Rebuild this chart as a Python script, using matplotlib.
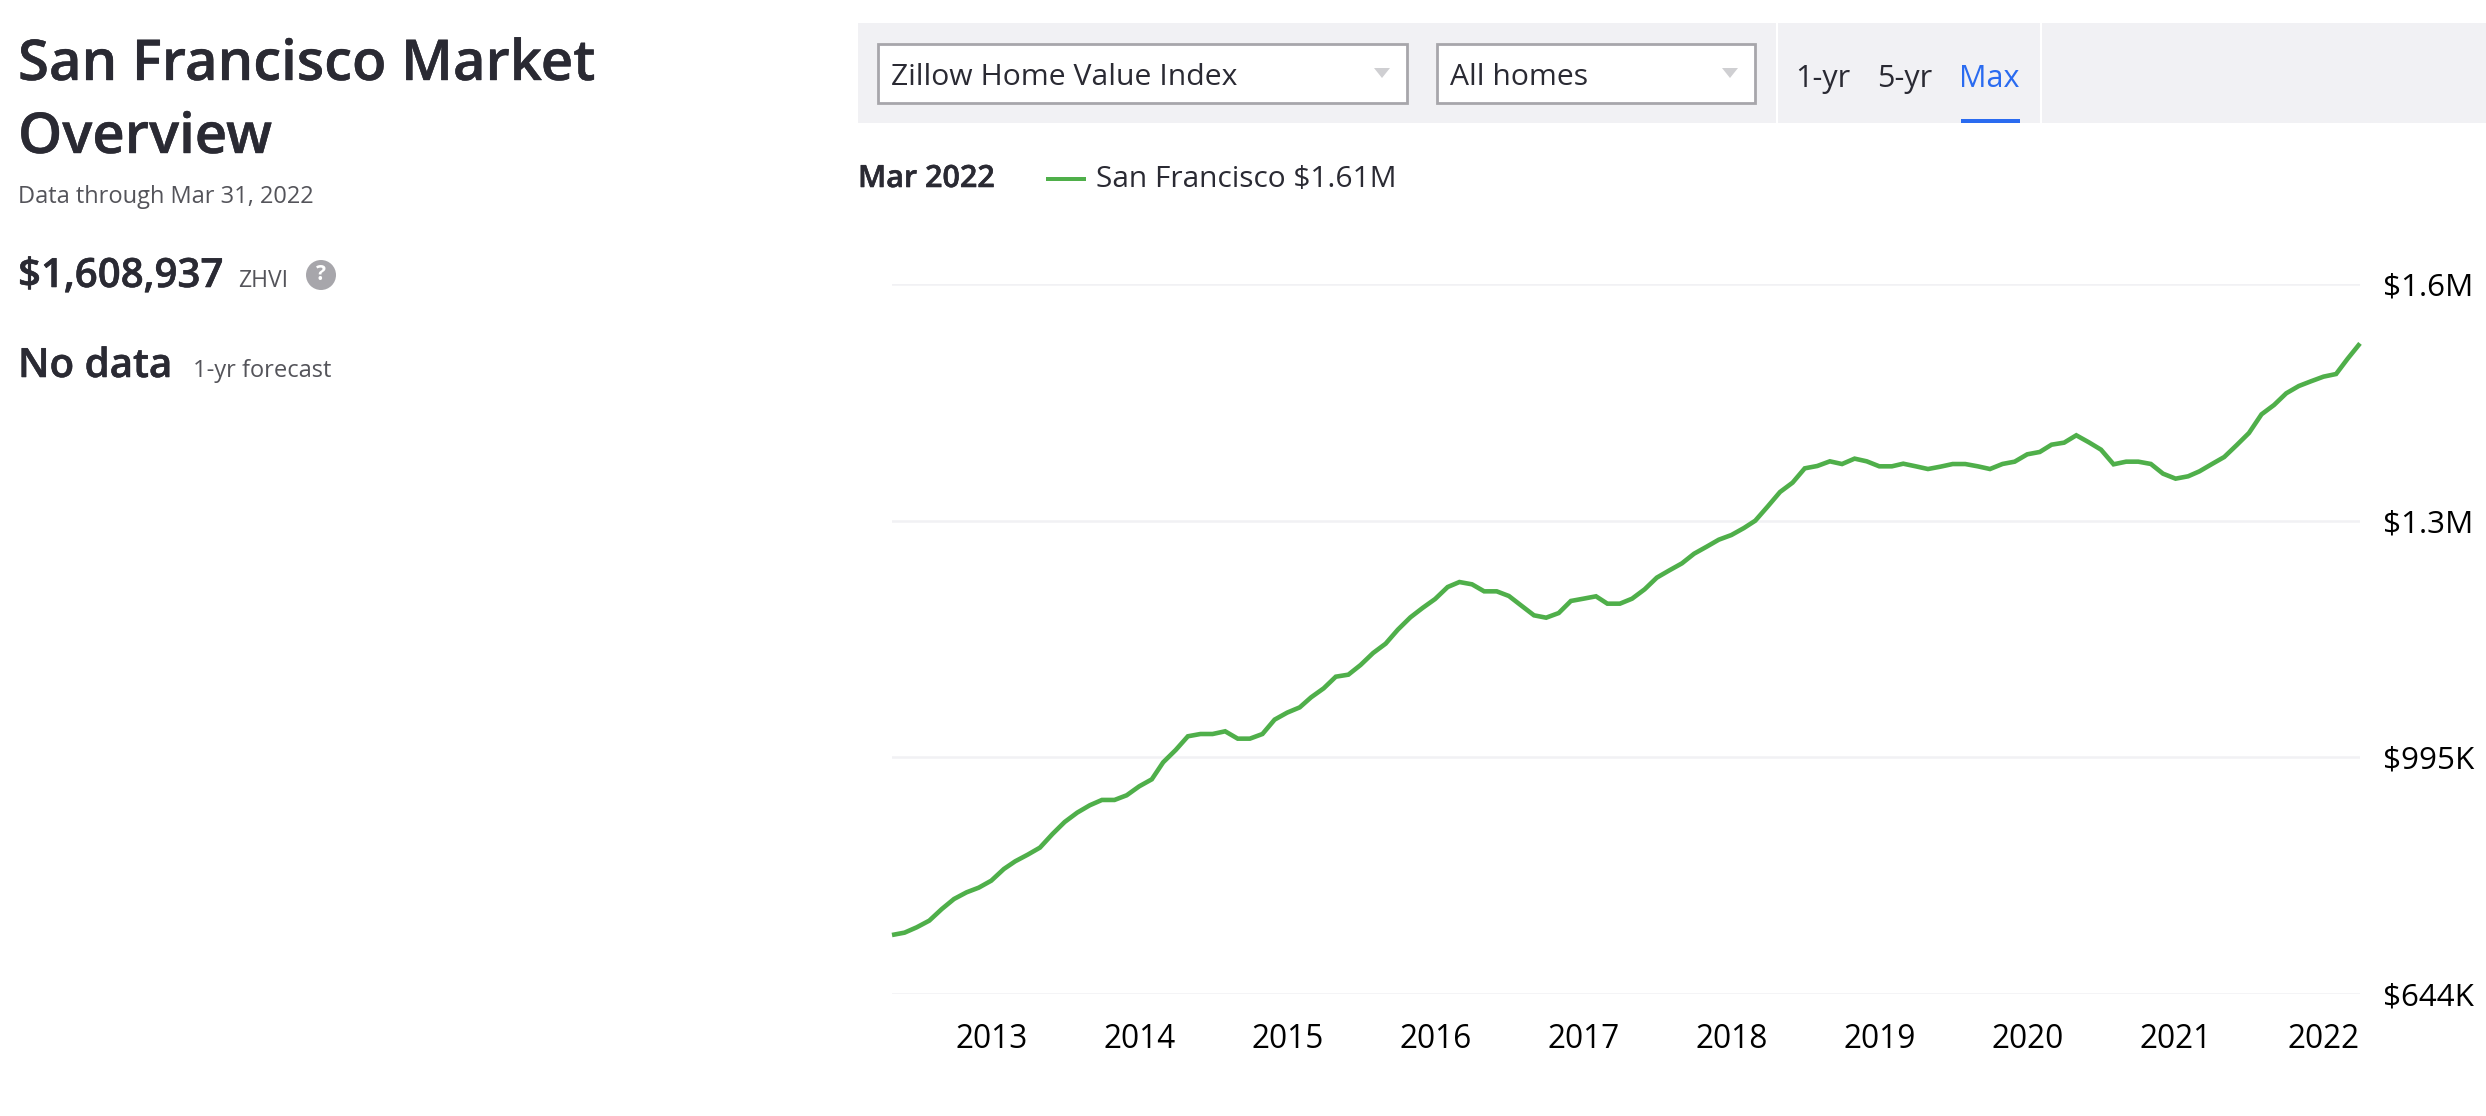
import pandas as pd
import matplotlib
matplotlib.use("Agg")
import matplotlib.pyplot as plt
import matplotlib.patheffects as pe
from matplotlib.patches import Rectangle, Circle, Polygon

# ================================
# DATA
# ================================
START_MONTH = "2012-04-30"
END_MONTH = "2022-03-31"

# ZHVI in $K, one value per month
ZHVI_K = [
    731.5, 735.0, 742.9, 752.8, 770.1, 784.9, 794.8, 801.7, 812.1, 829.4,
    840.8, 850.7, 861.1, 881.3, 899.1, 913.0, 923.9, 931.8, 931.8, 938.7,
    952.0, 962.4, 987.6, 1005.9, 1026.2, 1029.6, 1029.6, 1033.6, 1022.7, 1022.7,
    1029.6, 1050.9, 1061.3, 1069.1, 1084.0, 1097.3, 1114.6, 1117.6, 1131.9, 1149.7,
    1163.6, 1184.3, 1202.6, 1216.5, 1229.8, 1247.6, 1255.0, 1251.6, 1241.2, 1241.2,
    1234.3, 1219.9, 1205.6, 1202.1, 1209.0, 1226.9, 1230.3, 1233.8, 1222.9, 1222.9,
    1230.3, 1244.2, 1261.5, 1272.3, 1282.7, 1297.0, 1307.4, 1317.8, 1324.7, 1335.1,
    1346.0, 1367.3, 1388.5, 1402.4, 1423.6, 1427.1, 1434.0, 1430.0, 1438.0, 1434.0,
    1426.6, 1426.6, 1430.5, 1426.6, 1422.6, 1426.1, 1430.0, 1430.0, 1426.6, 1422.6,
    1430.1, 1433.5, 1444.4, 1447.9, 1458.7, 1461.7, 1472.6, 1462.2, 1451.3, 1429.6,
    1433.5, 1433.5, 1430.1, 1415.7, 1408.3, 1411.8, 1419.2, 1430.1, 1440.4, 1458.2,
    1476.0, 1503.7, 1517.6, 1534.9, 1545.7, 1552.7, 1559.6, 1563.5, 1585.8, 1608.9,
]

Y_TICKS = [644, 995, 1346, 1697]
Y_LABELS = ["$644K", "$995K", "$1.3M", "$1.6M"]
X_YEARS = list(range(2013, 2023))

# ================================
# STYLE
# ================================
W, H = 2486, 1116
DPI = 100
INK = "#2A2A33"
MUTED = "#54545A"
PANEL = "#F1F1F4"
BORDER = "#A7A6AB"
GREEN = "#4FAF4A"
BLUE = "#2A6BF0"

plt.rcParams["font.family"] = ["Open Sans", "DejaVu Sans"]

fig = plt.figure(figsize=(W / DPI, H / DPI), dpi=DPI, facecolor="white")

# ================================
# CHART
# ================================
ax = fig.add_axes([892 / W, 1 - 994 / H, 1468 / W, 710 / H])
dates = pd.date_range(START_MONTH, END_MONTH, freq="ME")
ax.plot(dates, ZHVI_K, color=GREEN, linewidth=3.3, solid_joinstyle="miter", solid_capstyle="butt", zorder=3, clip_on=False)

ax.set_xlim(dates[0], dates[-1])
ax.set_ylim(Y_TICKS[0], Y_TICKS[-1])
ax.set_yticks(Y_TICKS)
ax.set_yticklabels(Y_LABELS, va="center_baseline")
ax.yaxis.tick_right()
ax.set_xticks([pd.Timestamp(f"{y}-01-01") for y in X_YEARS])
ax.set_xticklabels([str(y) for y in X_YEARS])
ax.tick_params(axis="y", length=0, pad=16.7, labelsize=22.6, labelcolor="black")
ax.tick_params(axis="x", length=0, pad=21, labelsize=22.8, labelcolor="black")
ax.grid(axis="y", color=PANEL, linewidth=1.8, zorder=1)
ax.grid(axis="x", visible=False)
for s in ax.spines.values():
    s.set_visible(False)
ax.patch.set_alpha(0)

# ================================
# PAGE AROUND THE CHART (pixel coords)
# ================================
page = fig.add_axes([0, 0, 1, 1], zorder=-1)
page.set_xlim(0, W)
page.set_ylim(H, 0)
page.axis("off")


def label(x, y, txt, size, color=INK, weight="normal", heavy=0):
    t = page.text(x, y, txt, fontsize=size, color=color, fontweight=weight, ha="left", va="baseline")
    if heavy:
        t.set_path_effects([pe.withStroke(linewidth=heavy, foreground=color)])
    return t


# left column
label(18, 80, "San Francisco Market", 40.5, weight=600, heavy=0.3)
label(18, 153, "Overview", 40.5, weight=600, heavy=0.3)
label(18, 203, "Data through Mar 31, 2022", 17, MUTED)
label(18, 287, "$1,608,937", 29, weight=600, heavy=0.4)
label(238, 287, "ZHVI", 16.5, MUTED)
page.add_patch(Circle((321, 275), 15, color=BORDER, lw=0))
page.text(321, 275, "?", fontsize=15, color="white", fontweight="bold", ha="center", va="center")
label(18, 377, "No data", 29, weight=600, heavy=0.4)
label(193, 377, "1-yr forecast", 17, MUTED)

# control bar
page.add_patch(Rectangle((858, 23), W - 858, 100, color=PANEL, lw=0))
for x in (1777, 2041):
    page.add_patch(Rectangle((x - 1, 23), 2, 100, color="white", lw=0))

for x0, x1, txt, arrow_x in ((878, 1407, "Zillow Home Value Index", 1382), (1437, 1755, "All homes", 1730)):
    page.add_patch(Rectangle((x0, 44), x1 - x0, 59, facecolor="white", edgecolor=BORDER, lw=2))
    label(x0 + 13, 85, txt, 21.7)
    page.add_patch(Polygon([(arrow_x - 8, 68), (arrow_x + 8, 68), (arrow_x, 78)], color="#CFCFD2", lw=0))

label(1795, 87, "1-yr", 22)
label(1877, 87, "5-yr", 22)
label(1959, 87, "Max", 22, BLUE)
page.add_patch(Rectangle((1961, 119), 59, 4, color=BLUE, lw=0))

# legend row
label(858, 187, "Mar 2022", 22, weight=600, heavy=0.4)
page.add_patch(Rectangle((1046, 177), 40, 4, color=GREEN, lw=0))
label(1096, 187, "San Francisco $1.61M", 21.5)

fig.savefig("out.png", dpi=DPI, facecolor="white")
